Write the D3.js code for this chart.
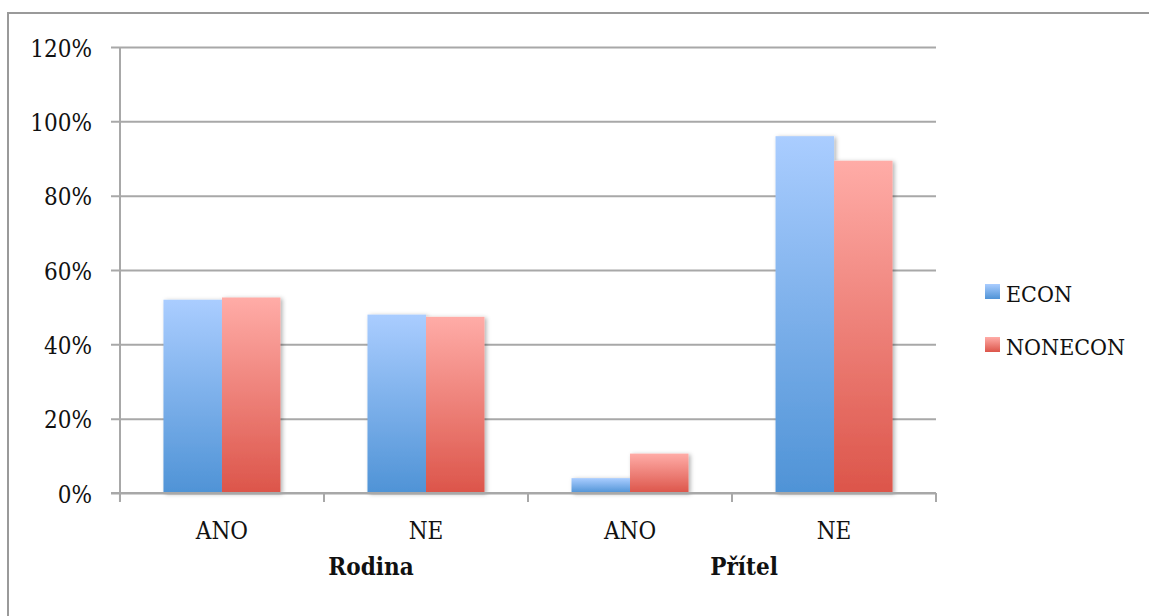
<!DOCTYPE html>
<html>
<head>
<meta charset="utf-8">
<script src="https://cdn.jsdelivr.net/npm/d3@7"></script>
<style>
  html, body { margin: 0; padding: 0; background: #fff; }
  svg { display: block; }
  text { font-family: "DejaVu Serif Condensed", "DejaVu Serif", serif; font-stretch: condensed; fill: #111; }
</style>
</head>
<body>
<svg id="chart" width="1149" height="616"></svg>
<script>
// Categories (two-level axis) and series values in percent
const categories = ["Rodina|ANO", "Rodina|NE", "Přítel|ANO", "Přítel|NE"];
const subLabels = ["ANO", "NE", "ANO", "NE"];
const groups = ["Rodina", "Přítel"];
const seriesNames = ["ECON", "NONECON"];
const econValues = [52, 48, 4, 96];
const nonEconValues = [52.6, 47.4, 10.6, 89.4];
const yTicks = [0, 20, 40, 60, 80, 100, 120];

const svg = d3.select("#chart");
const W = 1149, H = 616;

// plot area
const plotLeft = 120, plotRight = 936, plotTop = 47, plotBottom = 493;

// outer frame (runs off the right/bottom edges)
svg.append("rect")
  .attr("x", 8).attr("y", 13)
  .attr("width", W + 20).attr("height", H + 20)
  .attr("fill", "none").attr("stroke", "#9a9a9a").attr("stroke-width", 2);

const defs = svg.append("defs");
function vGrad(id, c0, c1) {
  const g = defs.append("linearGradient").attr("id", id)
    .attr("x1", 0).attr("y1", 0).attr("x2", 0).attr("y2", 1);
  g.append("stop").attr("offset", "0%").attr("stop-color", c0);
  g.append("stop").attr("offset", "100%").attr("stop-color", c1);
}
vGrad("gEcon", "#aacdff", "#4f93d6");
vGrad("gNon", "#ffaca7", "#dc554a");
const shadow = defs.append("filter").attr("id", "shadow")
  .attr("x", "-10%").attr("y", "-10%").attr("width", "130%").attr("height", "120%");
shadow.append("feDropShadow").attr("dx", 2).attr("dy", 1).attr("stdDeviation", 2)
  .attr("flood-color", "#000").attr("flood-opacity", 0.3);

const y = d3.scaleLinear().domain([0, 120]).range([plotBottom, plotTop]);
const x = d3.scaleBand().domain(categories).range([plotLeft, plotRight])
  .paddingInner(0.4265).paddingOuter(0.213);
const xs = d3.scaleBand().domain(seriesNames).range([0, x.bandwidth()]);
const step = x.step();
const catStart = c => x(c) - step * x.paddingInner() / 2;

// gridlines + y tick marks
const yAxis = d3.axisLeft(y).tickValues(yTicks).tickSize(-(plotRight - plotLeft + 9)).tickSizeOuter(0)
  .tickFormat(d => d + "%").tickPadding(19);
const gy = svg.append("g").attr("transform", `translate(${plotLeft - 9},0)`).call(yAxis);
gy.select(".domain").remove();
gy.selectAll(".tick line").attr("stroke", "#a8a8a8").attr("stroke-width", 2);
gy.selectAll(".tick text")
  .attr("font-size", 24).attr("dy", "0.38em")
  .style("font-family", '"DejaVu Serif Condensed", "DejaVu Serif", serif')
  .attr("fill", "#111");

// y axis line
svg.append("line").attr("x1", plotLeft).attr("x2", plotLeft).attr("y1", plotTop).attr("y2", plotBottom + 8)
  .attr("stroke", "#a8a8a8").attr("stroke-width", 2);

// category tick marks on the x axis
const boundaries = categories.map(catStart).concat([plotRight]);
svg.selectAll(".xtick").data(boundaries).enter().append("line")
  .attr("x1", d => d).attr("x2", d => d).attr("y1", plotBottom).attr("y2", plotBottom + 9)
  .attr("stroke", "#a8a8a8").attr("stroke-width", 2);

// bars
const rows = categories.map((c, i) => ({ c, vals: [econValues[i], nonEconValues[i]] }));
const fills = ["url(#gEcon)", "url(#gNon)"];
const gBars = svg.append("g").attr("filter", "url(#shadow)");
rows.forEach(r => {
  r.vals.forEach((v, j) => {
    gBars.append("rect")
      .attr("x", x(r.c) + xs(seriesNames[j]))
      .attr("width", xs.bandwidth())
      .attr("y", y(v))
      .attr("height", y(0) - y(v))
      .attr("fill", fills[j]);
  });
});

// redraw baseline on top of bar bottoms
svg.append("line").attr("x1", plotLeft - 9).attr("x2", plotRight).attr("y1", plotBottom).attr("y2", plotBottom)
  .attr("stroke", "#a8a8a8").attr("stroke-width", 2);

// category labels
svg.selectAll(".sub").data(categories).enter().append("text")
  .attr("x", c => x(c) + x.bandwidth() / 2)
  .attr("y", 539)
  .attr("text-anchor", "middle")
  .attr("font-size", 24)
  .text((c, i) => subLabels[i]);

// group labels
const groupShift = [47, 12];
groups.forEach((g, k) => {
  const a = catStart(categories[2 * k]);
  const b = catStart(categories[2 * k + 1]) + step;
  svg.append("text")
    .attr("x", (a + b) / 2 + groupShift[k])
    .attr("y", 575)
    .attr("text-anchor", "middle")
    .attr("font-size", 24)
    .attr("font-weight", "bold")
    .text(g);
});

// legend
const legend = svg.append("g").attr("transform", "translate(985,284)");
seriesNames.forEach((s, i) => {
  const row = legend.append("g").attr("transform", `translate(0,${i * 53})`);
  row.append("rect").attr("width", 15).attr("height", 15).attr("fill", fills[i]);
  row.append("text").attr("x", 21).attr("y", 18).attr("font-size", 23).text(s);
});
</script>
</body>
</html>
